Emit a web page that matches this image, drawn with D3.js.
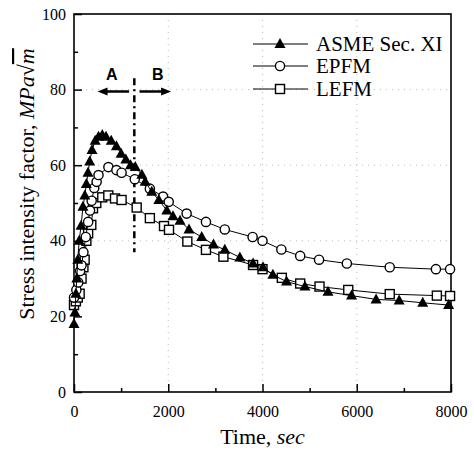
<!DOCTYPE html>
<html>
<head>
<meta charset="utf-8">
<script src="https://cdn.jsdelivr.net/npm/d3@7"></script>
<style>
  body { margin: 0; background: #fff; }
  svg text { font-family: "Liberation Serif", "Times New Roman", serif; }
</style>
</head>
<body>
<div id="viz"></div>
<script>
// values (time in sec, K in MPa*sqrt(m))
var asmeTime = [0, 20, 40, 60, 80, 110, 150, 190, 230, 262, 297, 333, 382, 450, 520, 600, 680, 790, 900, 1000, 1100, 1200, 1300, 1440, 1510, 1650, 1800, 1970, 2100, 2250, 2440, 2710, 2960, 3200, 3520, 3800, 4010, 4220, 4510, 4900, 5390, 5890, 6410, 6900, 7400, 7950];
var asmeK    = [18, 21, 26, 30, 35, 40, 44, 49, 52, 55, 58, 61, 64, 66.5, 67.5, 68, 67.5, 66.5, 65, 63, 61.5, 60, 59.5, 57.5, 55.6, 53, 50.8, 48, 46.5, 45.3, 43, 41, 39, 37.6, 35.6, 34, 33, 31, 29.2, 27.9, 26.5, 25.5, 24.5, 24.2, 23.6, 23];

var epfmTime = [0, 50, 90, 130, 160, 200, 250, 300, 340, 375, 430, 480, 520, 730, 900, 1010, 1290, 1610, 1890, 2010, 2390, 2800, 3200, 3790, 4000, 4400, 4800, 5200, 5790, 6700, 7680, 7980];
var epfmK    = [25, 27, 29, 32, 33.5, 37, 41, 45, 48, 50.6, 54, 55.6, 57.4, 59.5, 58.7, 58, 56.3, 53.8, 51.7, 50.3, 47.2, 45, 43, 41, 40, 37.7, 36, 35, 34, 33, 32.5, 32.5];

var lefmTime = [0, 40, 80, 120, 160, 200, 226, 262, 300, 367, 403, 473, 600, 728, 870, 1010, 1330, 1610, 1910, 2016, 2405, 2800, 3170, 3800, 4000, 4410, 4800, 5210, 5820, 6700, 7700, 7980];
var lefmK    = [23, 24, 25, 26, 30, 33, 35, 40, 42, 44.2, 48.6, 50, 51.5, 52, 51.2, 50.8, 48.8, 46, 43.9, 42.9, 39.8, 37.6, 35.8, 33.6, 32.5, 30.2, 28.7, 27.9, 27, 25.9, 25.5, 25.4];

var seriesNames = ['ASME Sec. XI', 'EPFM', 'LEFM'];
var seriesShapes = ['triangle', 'circle', 'square'];
var xTicks = [0, 2000, 4000, 6000, 8000];
var xMinor = [1000, 3000, 5000, 7000];
var yTicks = [0, 20, 40, 60, 80, 100];
var yMinor = [10, 30, 50, 70, 90];
var splitTime = 1280;

var width = 474, height = 452;
var margin = { top: 14, right: 23, bottom: 60, left: 74 };
var w = width - margin.left - margin.right,
    h = height - margin.top - margin.bottom;

var svg = d3.select('#viz').append('svg')
  .attr('width', width)
  .attr('height', height);

var chart = svg.append('g')
  .attr('transform', 'translate(' + margin.left + ',' + margin.top + ')');

var xScale = d3.scaleLinear().domain([0, 8000]).range([0, w]);
var yScale = d3.scaleLinear().domain([0, 100]).range([h, 0]);

// faint dotted grid
chart.append('g').selectAll('line').data([40, 60, 80]).enter().append('line')
  .attr('x1', 0).attr('x2', w)
  .attr('y1', function(d) { return yScale(d); })
  .attr('y2', function(d) { return yScale(d); })
  .attr('stroke', '#bbb').attr('stroke-width', 1).attr('stroke-dasharray', '1,5');
chart.append('g').selectAll('line').data([2000, 4000, 6000]).enter().append('line')
  .attr('y1', 0).attr('y2', h)
  .attr('x1', function(d) { return xScale(d); })
  .attr('x2', function(d) { return xScale(d); })
  .attr('stroke', '#bbb').attr('stroke-width', 1).attr('stroke-dasharray', '1,5');

// axes, ticks pointing inward
var xAxis = d3.axisBottom(xScale).tickValues(xTicks).tickFormat(d3.format('d'))
  .tickSize(-8).tickSizeOuter(0).tickPadding(14);
var xAxisMinor = d3.axisBottom(xScale).tickValues(xMinor).tickSize(-4).tickSizeOuter(0).tickFormat('');
var yAxis = d3.axisLeft(yScale).tickValues(yTicks).tickFormat(d3.format('d'))
  .tickSize(-8).tickSizeOuter(0).tickPadding(8);
var yAxisMinor = d3.axisLeft(yScale).tickValues(yMinor).tickSize(-4).tickSizeOuter(0).tickFormat('');

var xGuide = chart.append('g').attr('transform', 'translate(0,' + h + ')').call(xAxis);
chart.append('g').attr('transform', 'translate(0,' + h + ')').call(xAxisMinor);
var yGuide = chart.append('g').call(yAxis);
chart.append('g').call(yAxisMinor);

chart.selectAll('.domain').remove();
chart.selectAll('.tick line').attr('stroke', '#000').attr('stroke-width', 1.5);
xGuide.selectAll('text').attr('font-size', 16).attr('fill', '#000')
  .style('font-family', '"Liberation Serif", serif');
yGuide.selectAll('text').attr('font-size', 16).attr('fill', '#000')
  .style('font-family', '"Liberation Serif", serif');

// frame
chart.append('rect')
  .attr('x', 0).attr('y', 0).attr('width', w).attr('height', h)
  .attr('fill', 'none').attr('stroke', '#000').attr('stroke-width', 1.6);

// A / B split line with arrows
chart.append('line')
  .attr('x1', xScale(splitTime)).attr('x2', xScale(splitTime))
  .attr('y1', yScale(83)).attr('y2', yScale(37))
  .attr('stroke', '#000').attr('stroke-width', 2.5)
  .attr('stroke-dasharray', '7,4,2,4');

function arrow(from, to, yv) {
  var x0 = xScale(from), x1 = xScale(to), y = yScale(yv);
  var dir = x1 > x0 ? 1 : -1;
  chart.append('line')
    .attr('x1', x0).attr('x2', x1 - dir * 6).attr('y1', y).attr('y2', y)
    .attr('stroke', '#000').attr('stroke-width', 2.5);
  chart.append('path')
    .attr('d', 'M' + x1 + ',' + y + 'L' + (x1 - dir * 10) + ',' + (y - 4) + 'L' + (x1 - dir * 10) + ',' + (y + 4) + 'Z')
    .attr('fill', '#000');
}
arrow(1170, 500, 79.5);
arrow(1390, 2060, 79.5);

chart.append('text').attr('x', xScale(800)).attr('y', yScale(82.5))
  .attr('text-anchor', 'middle').attr('font-size', 16).attr('font-weight', 'bold')
  .style('font-family', '"Liberation Sans", Arial, sans-serif').text('A');
chart.append('text').attr('x', xScale(1780)).attr('y', yScale(82.5))
  .attr('text-anchor', 'middle').attr('font-size', 16).attr('font-weight', 'bold')
  .style('font-family', '"Liberation Sans", Arial, sans-serif').text('B');

// series
var series = [
  { name: seriesNames[0], shape: seriesShapes[0], pts: d3.zip(asmeTime, asmeK) },
  { name: seriesNames[1], shape: seriesShapes[1], pts: d3.zip(epfmTime, epfmK) },
  { name: seriesNames[2], shape: seriesShapes[2], pts: d3.zip(lefmTime, lefmK) }
];

var line = d3.line()
  .x(function(d) { return xScale(d[0]); })
  .y(function(d) { return yScale(d[1]); });

function drawMarker(g, shape, x, y) {
  if (shape === 'triangle') {
    g.append('path')
      .attr('d', 'M' + x + ',' + (y - 6) + 'L' + (x + 5.5) + ',' + (y + 4) + 'L' + (x - 5.5) + ',' + (y + 4) + 'Z')
      .attr('fill', '#000');
  } else if (shape === 'circle') {
    g.append('circle').attr('cx', x).attr('cy', y).attr('r', 4.6)
      .attr('fill', '#fff').attr('stroke', '#000').attr('stroke-width', 1.4);
  } else {
    g.append('rect').attr('x', x - 4.5).attr('y', y - 4.5).attr('width', 9).attr('height', 9)
      .attr('fill', '#fff').attr('stroke', '#000').attr('stroke-width', 1.4);
  }
}

// draw order: LEFM, EPFM, ASME on top
[2, 1, 0].forEach(function(i) {
  var s = series[i];
  var g = chart.append('g');
  g.append('path').datum(s.pts).attr('d', line)
    .attr('fill', 'none').attr('stroke', '#000').attr('stroke-width', 1);
  s.pts.forEach(function(p) {
    drawMarker(g, s.shape, xScale(p[0]), yScale(p[1]));
  });
});

// legend
var legendRows = [44, 66, 89];
series.forEach(function(s, i) {
  var y = legendRows[i] - margin.top;
  var lg = chart.append('g');
  lg.append('line').attr('x1', 253 - margin.left).attr('x2', 308 - margin.left)
    .attr('y1', y).attr('y2', y).attr('stroke', '#000').attr('stroke-width', 1);
  drawMarker(lg, s.shape, 280 - margin.left, y);
  lg.append('text').attr('x', 316 - margin.left).attr('y', y + 7)
    .attr('font-size', 21).attr('fill', '#000').text(s.name);
});

// axis titles
var xt = svg.append('text')
  .attr('x', margin.left + w / 2).attr('y', 444)
  .attr('text-anchor', 'middle').attr('font-size', 22);
xt.append('tspan').text('Time, ');
xt.append('tspan').attr('font-style', 'italic').text('sec');

var yt = svg.append('text')
  .attr('transform', 'translate(34,184) rotate(-90)')
  .attr('text-anchor', 'middle').attr('font-size', 22);
yt.append('tspan').text('Stress intensity factor, ');
yt.append('tspan').attr('font-style', 'italic').text('MPa');
yt.append('tspan').text('\u221A');
yt.append('tspan').attr('font-style', 'italic').style('text-decoration', 'overline').text('m');
</script>
</body>
</html>
